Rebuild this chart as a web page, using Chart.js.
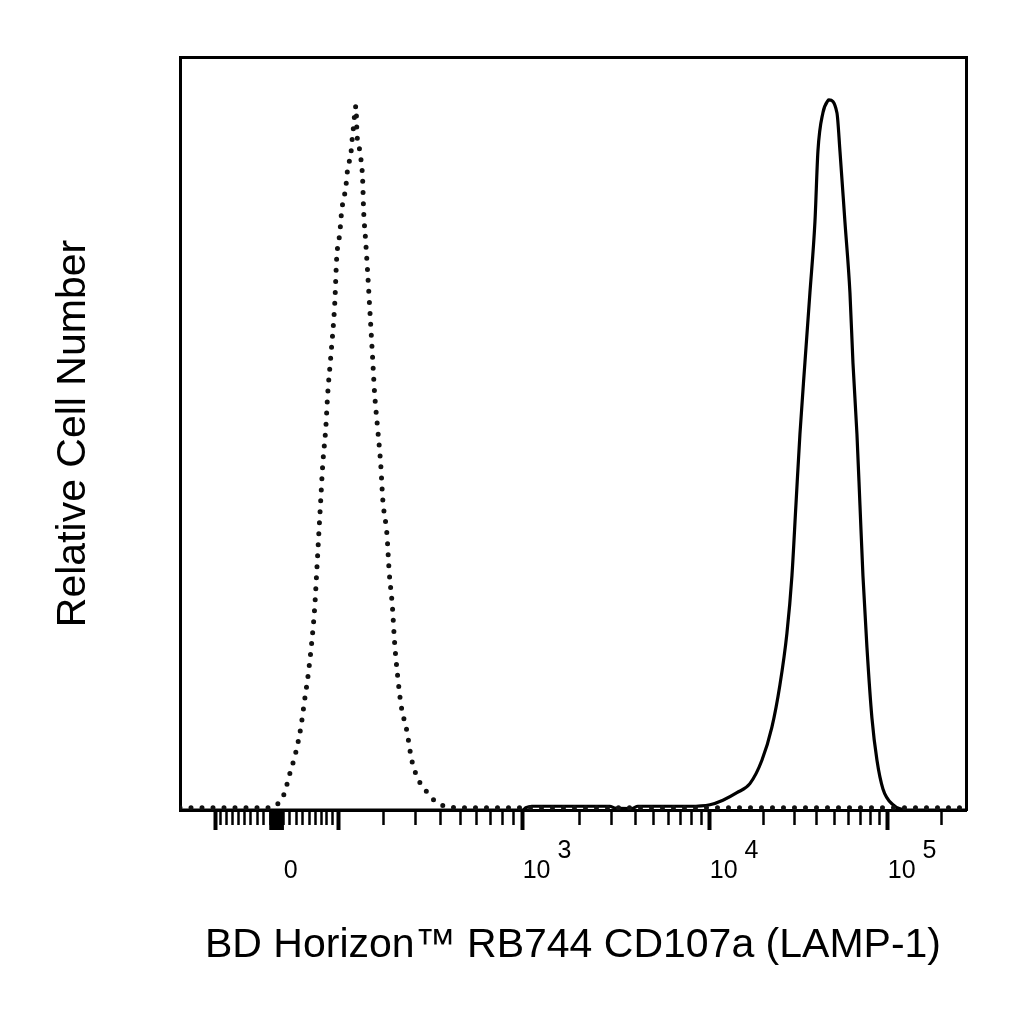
<!DOCTYPE html>
<html>
<head>
<meta charset="utf-8">
<script src="https://cdn.jsdelivr.net/npm/chart.js@4.4.1/dist/chart.umd.min.js"></script>
<style>
    html, body { margin: 0; padding: 0; background: #fff; }
    canvas { display: block; }
</style>
</head>
<body>
<canvas id="histChart" width="1024" height="1024"></canvas>
<script>
// isotype control, dotted trace (fluorescence intensity / relative count)
const isoIntensity = [
    -175, -150, -100, -60, -30, -10,
    1.5, 10.6, 19.8, 29.0, 36.8, 43.1, 47.9, 54.4, 59.3, 62.6, 65.9, 69.3, 72.7, 77.9,
    81.4, 86.7, 93.9, 97.5, 103.2, 107.0, 110.9, 114.9, 116.9, 121.0, 125.3, 127.4, 129.6,
    135.5,
    137.5, 141.5, 145.6, 149.9, 152.0, 156.4, 160.9, 167.9, 172.8, 177.7, 185.3, 193.2,
    198.6, 209.9, 215.8, 225.0, 231.3, 241.1, 251.4, 269.4, 286.0, 307.3, 341.7, 375.1, 420.8,
    500, 700, 1000, 2000, 5000, 10000, 30000, 100000, 274700,
];
const isoCount = [
    0.3, 0.3, 0.3, 0.3, 0.3, 0.3,
    0.8, 2.0, 4.8, 7.6, 10.9, 14.7, 17.5, 22.3, 27.0, 31.7, 36.5, 41.2, 45.9, 50.7,
    55.4, 60.2, 67.3, 73.4, 76.6, 79.7, 81.3, 82.7, 84.3, 85.9, 87.4, 89.0, 90.3,
    93.5,
    89.9, 88.3, 86.7, 83.7, 79.7, 75.8, 71.7, 64.9, 60.2, 55.4, 50.7, 45.9,
    41.2, 36.5, 31.7, 27.0, 22.3, 17.5, 13.8, 10.5, 6.6, 4.2, 2.4, 1.2, 0.5,
    0.3, 0.3, 0.3, 0.3, 0.3, 0.3, 0.3, 0.3, 0.3,
];

// CD107a stained cells, solid trace
const cd107Intensity = [
    -175, 0, 500, 1000,
    1039, 1118, 2923, 3108, 3832, 4126, 7826,
    10013, 11850, 14200, 16800, 19620, 22330, 24760, 27120, 28930, 30460, 32080, 34220,
    36510, 38950, 40490, 43190, 46080, 46680,
    51760, 53830, 57410, 61250, 63680, 67060, 69720, 72470, 76310, 81410, 86870, 93860,
    106800, 128000, 274700,
];
const cd107Count = [
    0, 0, 0, 0,
    0.3, 0.5, 0.5, 0.25, 0.2, 0.5, 0.5,
    0.7, 1.3, 2.3, 3.5, 6.6, 11.0, 16.6, 23.5, 31.1, 40.5, 49.9, 59.4,
    68.7, 78.1, 87.5, 92.6, 94.2, 94.3,
    92.6, 87.5, 78.1, 68.7, 59.4, 49.9, 40.5, 31.1, 21.6, 12.2, 6.6, 2.8,
    0.7, 0, 0,
];

// x axis: labelled ticks and their text (base + superscript)
const labeledTicks = [0, 1000, 10000, 100000];
const tickBase = [' 0', '10', '10', '10'];
const tickExp = ['', '3', '4', '5'];
const longTicks = [-100, 100, 1000, 10000, 100000];

const X_MIN = -175;
const X_MAX = 274700;

// biexponential display transform (linear around zero, log above 10^3)
const LIN_W = 140;
const LIN_GAIN = 92.3;
const DEC_LOW = 187;
const DEC_HIGH = 178;
const D3 = LIN_GAIN * Math.asinh(1000 / LIN_W);
const D4 = D3 + DEC_LOW;

function biex(v) {
    if (v <= 1000) return LIN_GAIN * Math.asinh(v / LIN_W);
    if (v <= 10000) return D3 + DEC_LOW * Math.log10(v / 1000);
    return D4 + DEC_HIGH * Math.log10(v / 10000);
}

function unbiex(d) {
    if (d <= D3) return LIN_W * Math.sinh(d / LIN_GAIN);
    if (d <= D4) return 1000 * Math.pow(10, (d - D3) / DEC_LOW);
    return 10000 * Math.pow(10, (d - D4) / DEC_HIGH);
}

class BiexScale extends Chart.Scale {
    determineDataLimits() {
        this.min = this.options.min;
        this.max = this.options.max;
    }

    buildTicks() {
        const vals = [0, -100];
        for (let k = 1; k <= 9; k++) {
            vals.push(k, -k, 10 * k, -10 * k);
        }
        for (let dec = 100; dec <= 100000; dec *= 10) {
            for (let k = 1; k <= 9; k++) vals.push(k * dec);
        }
        return vals
            .filter((v) => v >= this.min && v <= this.max)
            .sort((a, b) => a - b)
            .map((v) => ({ value: v }));
    }

    configure() {
        super.configure();
        this._lo = biex(this.min);
        this._hi = biex(this.max);
    }

    getLabelForValue(value) {
        return String(value);
    }

    getPixelForValue(value) {
        return this.getPixelForDecimal((biex(value) - this._lo) / (this._hi - this._lo));
    }

    getValueForPixel(pixel) {
        return unbiex(this._lo + this.getDecimalForPixel(pixel) * (this._hi - this._lo));
    }
}
BiexScale.id = 'biex';
BiexScale.defaults = {};

Chart.register(BiexScale);

const isLong = (v) => Math.abs(v) < 10 || longTicks.includes(v);

Chart.defaults.font.family = "'Liberation Sans', Arial, sans-serif";
Chart.defaults.color = '#000';

const frameBorder = { display: true, color: '#000', width: 3 };

new Chart(document.getElementById('histChart'), {
    type: 'line',
    data: {
        datasets: [
            {
                label: 'Isotype control',
                data: isoIntensity.map((x, i) => ({ x, y: isoCount[i] })),
                borderColor: '#111',
                borderWidth: 5,
                borderDash: [0, 11],
                borderCapStyle: 'round',
                pointRadius: 0,
                cubicInterpolationMode: 'monotone',
                fill: false,
                xAxisID: 'x',
                yAxisID: 'y',
            },
            {
                label: 'CD107a',
                data: cd107Intensity.map((x, i) => ({ x, y: cd107Count[i] })),
                borderColor: '#000',
                borderWidth: 3.2,
                pointRadius: 0,
                cubicInterpolationMode: 'monotone',
                fill: false,
                xAxisID: 'x',
                yAxisID: 'y',
            },
        ],
    },
    options: {
        responsive: false,
        animation: false,
        events: [],
        layout: {
            padding: { top: 57, right: 58, bottom: 0, left: 0 },
        },
        plugins: {
            legend: { display: false },
            tooltip: { enabled: false },
        },
        scales: {
            x: {
                type: 'biex',
                position: 'bottom',
                min: X_MIN,
                max: X_MAX,
                afterFit(scale) {
                    scale.height = 214;
                },
                border: frameBorder,
                grid: {
                    display: true,
                    drawOnChartArea: false,
                    drawTicks: true,
                    tickLength: 20,
                    tickColor: '#000',
                    tickWidth: (ctx) => (longTicks.includes(ctx.tick.value) ? 4 : 2.5),
                    tickBorderDash: (ctx) => (isLong(ctx.tick.value) ? [] : [13, 60]),
                },
                ticks: {
                    autoSkip: false,
                    maxRotation: 0,
                    minRotation: 0,
                    align: 'start',
                    padding: 11,
                    color: '#000',
                    font: { size: 25, lineHeight: '20px' },
                    callback(value) {
                        const i = labeledTicks.indexOf(value);
                        if (i < 0) {
                            return '';
                        }
                        return [tickExp[i] ? '     ' + tickExp[i] : '', tickBase[i]];
                    },
                },
                title: {
                    display: true,
                    text: 'BD Horizon™ RB744 CD107a (LAMP-1)',
                    color: '#000',
                    font: { size: 41 },
                    padding: { top: 0, bottom: 54 },
                },
            },
            xTop: {
                type: 'linear',
                position: 'top',
                min: 0,
                max: 1,
                border: frameBorder,
                grid: { drawOnChartArea: false, drawTicks: false },
                ticks: { display: false },
            },
            y: {
                type: 'linear',
                position: 'left',
                min: 0,
                max: 100,
                afterFit(scale) {
                    scale.width = 180;
                },
                border: frameBorder,
                grid: { drawOnChartArea: false, drawTicks: false },
                ticks: { display: false },
                title: {
                    display: true,
                    text: 'Relative Cell Number',
                    color: '#000',
                    font: { size: 41 },
                    padding: { top: 49, bottom: 0 },
                },
            },
            yRight: {
                type: 'linear',
                position: 'right',
                min: 0,
                max: 1,
                border: frameBorder,
                grid: { drawOnChartArea: false, drawTicks: false },
                ticks: { display: false },
            },
        },
    },
});
</script>
</body>
</html>
